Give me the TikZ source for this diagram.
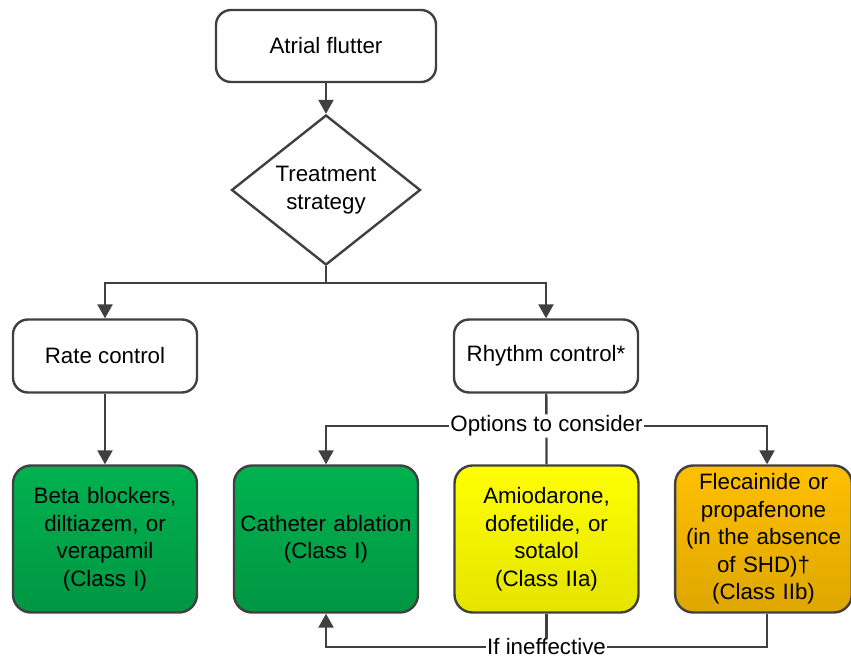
\documentclass[tikz,border=0pt]{standalone}
\usepackage{fontspec}
\setmainfont{Liberation Sans}
\usetikzlibrary{shapes.geometric,arrows.meta}
\definecolor{edgegray}{HTML}{404040}
\definecolor{greentop}{RGB}{0,178,80}
\definecolor{greenbot}{RGB}{0,150,66}
\definecolor{yellowtop}{RGB}{255,255,0}
\definecolor{yellowbot}{RGB}{228,228,0}
\definecolor{orangetop}{RGB}{255,192,0}
\definecolor{orangebot}{RGB}{222,166,0}
\begin{document}
\begin{tikzpicture}
    [x=1pt,y=-1pt,
     every node/.style={font=\fontsize{22.3}{27.5}\selectfont,align=center},
     box/.style={draw=edgegray,line width=2.4pt,rounded corners=15pt,fill=white,
       minimum width=184pt,minimum height=73pt},
     drug/.style={box,rounded corners=18pt,minimum height=147pt,text width=176pt},
     link/.style={draw=edgegray,line width=2.4pt},
     arr/.style={link,-{Triangle[length=14pt,width=15pt]}},
     lab/.style={fill=white,inner sep=1pt}]
  \useasboundingbox (0,0) rectangle (851,658);
  \node[box,minimum width=220pt,minimum height=72pt] (flutter) at (326,46) {Atrial flutter};
  \node[draw=edgegray,line width=2.4pt,diamond,aspect=1.26,minimum width=189pt,
    minimum height=150pt,inner sep=0pt] (strategy) at (326,190) {Treatment\\strategy};
  \node[box] (rate) at (105,356) {Rate control};
  \node[box] (rhythm) at (546,356) {Rhythm control*};
  \node[drug,top color=greentop,bottom color=greenbot]
    (beta) at (105,539) {Beta blockers,\\diltiazem, or\\verapamil\\(Class I)};
  \node[drug,top color=greentop,bottom color=greenbot]
    (ablation) at (326,539) {Catheter ablation\\(Class I)\\[27pt]};
  \node[drug,top color=yellowtop,bottom color=yellowbot]
    (amio) at (546.5,539) {Amiodarone,\\dofetilide, or\\sotalol\\(Class IIa)};
  \node[drug,minimum width=175pt,text width=170pt,top color=orangetop,bottom color=orangebot]
    (flec) at (763.5,539) {Flecainide or\\propafenone\\(in the absence\\of SHD)\dag\\(Class IIb)};
  \coordinate (split) at (326,283);
  \node[lab] (options) at (546.5,426) {Options to consider};
  \node[lab] (ineff) at (546.5,647) {If ineffective};
  \draw[arr] (flutter) -- (strategy);
  \draw[link] (strategy) -- (split);
  \draw[arr] (split) -| (rate);
  \draw[arr] (split) -| (rhythm);
  \draw[arr] (rate) -- (beta);
  \draw[link] (rhythm) -- (options) -- (amio);
  \draw[arr] (options) -| (ablation);
  \draw[arr] (options.east) -| (flec.north -| 767,0);
  \draw[link] (amio) -- (ineff);
  \draw[link] (flec.south -| 767,0) |- (ineff.east);
  \draw[arr] (ineff) -| (ablation);
\end{tikzpicture}
\end{document}
